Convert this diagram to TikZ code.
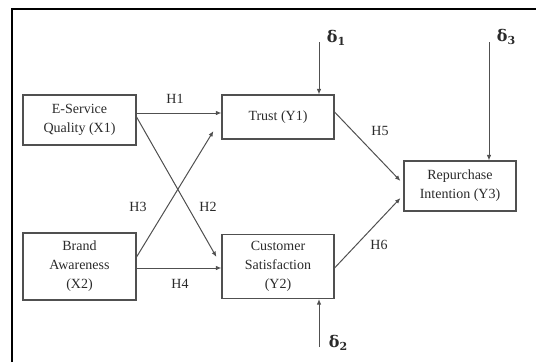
\documentclass[tikz,border=0pt]{standalone}
\usepackage{fontspec}
\setmainfont{Liberation Serif}
\newfontfamily\dfont{DejaVu Serif}
\usetikzlibrary{arrows.meta}
\definecolor{ln}{HTML}{505050}
\definecolor{tx}{HTML}{2A2A2A}
\newcommand{\dsym}[1]{{\dfont\bfseries δ\raisebox{-3pt}{\fontsize{11}{12}\selectfont #1}}}
\tikzset{
  box/.style={draw=ln, line width=1.1pt, rectangle, align=center, text=tx,
    font=\fontsize{14}{19}\selectfont, inner sep=0pt},
  arr/.style={draw=ln, line width=1pt, -{Latex[length=5.5pt,width=4.5pt]}},
  hlab/.style={text=tx, font=\fontsize{14}{16}\selectfont, inner sep=0pt},
  dlab/.style={text=tx, font=\fontsize{16}{18}\selectfont, inner sep=0pt}
}
\begin{document}
\begin{tikzpicture}[x=1pt,y=-1pt]
\useasboundingbox (0,0) rectangle (536,362);
\draw[line width=2.5pt, black] (12,362) -- (12,9) -- (536,9);
\node[box, minimum width=113pt, minimum height=50pt] (X1) at (79.5,120) {E-Service\\Quality (X1)};
\node[box, minimum width=113pt, minimum height=67pt] (X2) at (79.5,266.5) {Brand\\Awareness\\(X2)};
\node[box, minimum width=112pt, minimum height=44pt] (Y1) at (278,117) {Trust (Y1)};
\node[box, minimum width=112pt, minimum height=64pt] (Y2) at (278,266.5) {Customer\\Satisfaction\\(Y2)};
\node[box, minimum width=112pt, minimum height=50pt] (Y3) at (460,186) {Repurchase\\Intention (Y3)};
\draw[arr] ([yshift=7pt]X1.east) -- ([yshift=4pt]Y1.west);
\draw[arr] ([yshift=3pt]X1.east) -- ([xshift=-5pt,yshift=9.5pt]Y2.west);
\draw[arr] ([yshift=9.5pt]X2.east) -- ([xshift=-8pt,yshift=-14pt]Y1.west);
\draw[arr] ([yshift=-1.5pt]X2.east) -- ([yshift=-1.5pt]Y2.west);
\draw[arr] ([yshift=5pt]Y1.east) -- ([xshift=-3pt,yshift=5pt]Y3.west);
\draw[arr] ([yshift=-1.5pt]Y2.east) -- ([xshift=-3pt,yshift=-12pt]Y3.west);
\coordinate (d1) at (319,42);
\coordinate (d2) at (319,347);
\coordinate (d3) at (489,42);
\draw[arr] (d1) -- ([xshift=41pt]Y1.north);
\draw[arr] (d2) -- ([xshift=41pt]Y2.south);
\draw[arr] (d3) -- ([xshift=29pt]Y3.north);
\node[dlab] (l1) at (336,38) {\dsym{1}};
\node[dlab] (l2) at (338,343) {\dsym{2}};
\node[dlab] (l3) at (506,37) {\dsym{3}};
\node[hlab] (h1) at (175,99) {H1};
\node[hlab] (h2) at (208,207) {H2};
\node[hlab] (h3) at (138,207) {H3};
\node[hlab] (h4) at (180,284) {H4};
\node[hlab] (h5) at (380,131) {H5};
\node[hlab] (h6) at (379,245) {H6};
\end{tikzpicture}
\end{document}
